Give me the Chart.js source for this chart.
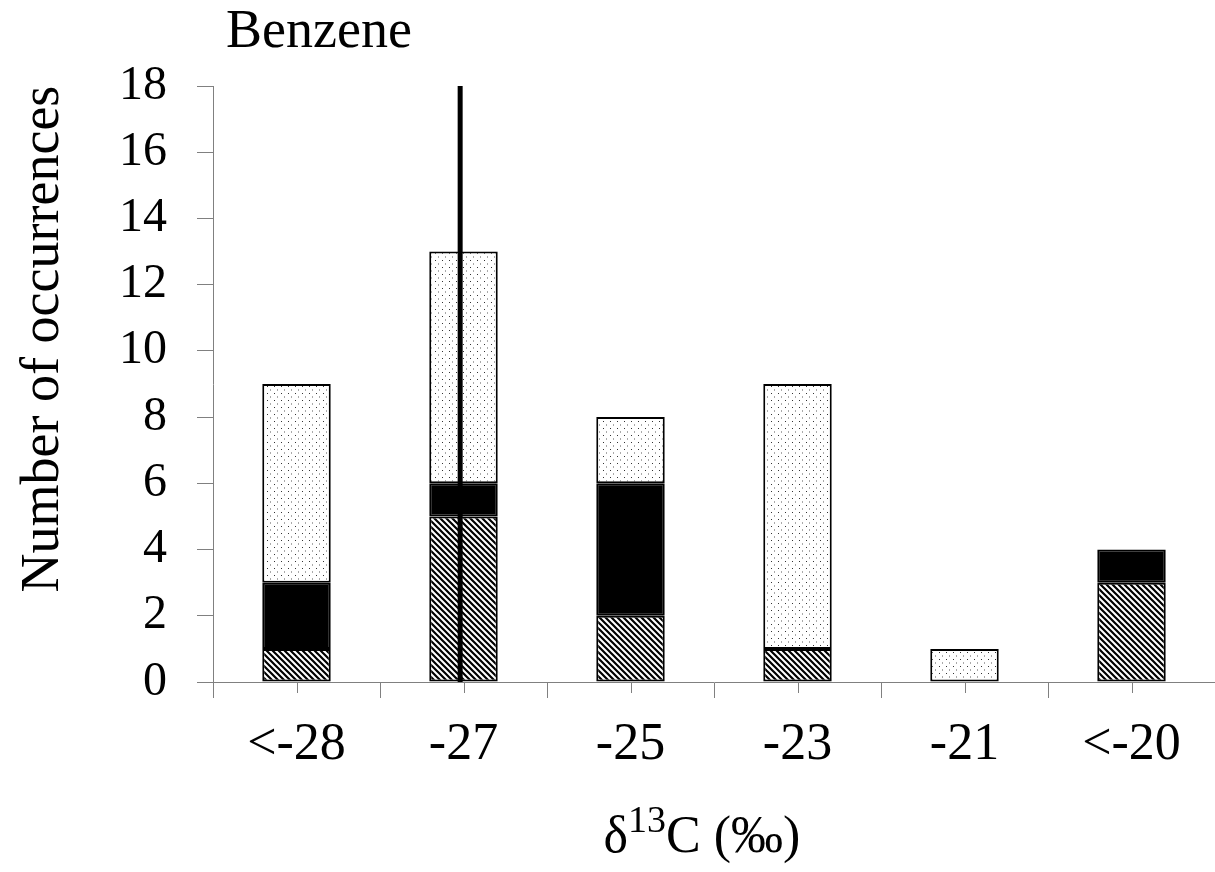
<!DOCTYPE html>
<html>
<head>
<meta charset="utf-8">
<title>Benzene δ13C</title>
<script src="https://cdn.jsdelivr.net/npm/chart.js@4.4.1/dist/chart.umd.min.js"></script>
<style>
  html, body { margin: 0; padding: 0; background: #fff; }
  #wrap { width: 1215px; height: 872px; position: relative; }
</style>
</head>
<body>
<div id="wrap"><canvas id="chart" width="1215" height="872"></canvas></div>
<script>
// ─── Data ────────────────────────────────────────────────
const categories = ['<-28', '-27', '-25', '-23', '-21', '<-20'];
const hatchedCounts = [1, 5, 2, 1, 0, 3];
const solidCounts   = [2, 1, 4, 0, 0, 1];
const dottedCounts  = [6, 7, 2, 8, 1, 0];
const yMax = 18;
const yStep = 2;
// reference line, in category-index units (just left of the -27 bin centre)
const refLineAt = 0.98;

const SERIF = "'Liberation Serif', 'Times New Roman', serif";
const AXIS_GREY = '#808080';

// ─── Fill patterns ───────────────────────────────────────
function hatchPattern() {
  const c = document.createElement('canvas');
  c.width = 6; c.height = 6;
  const g = c.getContext('2d');
  g.fillStyle = '#fff';
  g.fillRect(0, 0, 6, 6);
  g.strokeStyle = '#000';
  g.lineWidth = 2.2;
  g.beginPath();
  g.moveTo(-1, -1); g.lineTo(7, 7);
  g.moveTo(-1, 5);  g.lineTo(1, 7);
  g.moveTo(5, -1);  g.lineTo(7, 1);
  g.stroke();
  return g.createPattern(c, 'repeat');
}

function dotPattern() {
  const c = document.createElement('canvas');
  c.width = 7; c.height = 7;
  const g = c.getContext('2d');
  g.fillStyle = '#fff';
  g.fillRect(0, 0, 7, 7);
  g.fillStyle = '#333';
  g.fillRect(1, 1, 1, 1);
  g.fillStyle = '#aaa';
  g.fillRect(4, 4, 1, 2);
  return g.createPattern(c, 'repeat');
}

// no outline on empty segments
const segBorder = ctx => (ctx.raw ? 2 : 0);

// ─── Extra drawing: short centre ticks, titles ───────────
const decorations = {
  id: 'decorations',
  afterDraw(chart) {
    const { ctx, chartArea, scales } = chart;
    const xs = scales.x;

    ctx.save();
    ctx.strokeStyle = AXIS_GREY;
    ctx.lineWidth = 1;
    categories.forEach((_, i) => {
      const px = Math.round(xs.getPixelForValue(i)) + 0.5;
      ctx.beginPath();
      ctx.moveTo(px, chartArea.bottom);
      ctx.lineTo(px, chartArea.bottom + 11);
      ctx.stroke();
    });

    ctx.fillStyle = '#000';

    // panel title
    ctx.font = '54px ' + SERIF;
    ctx.textAlign = 'left';
    ctx.textBaseline = 'alphabetic';
    ctx.fillText('Benzene', 226, 47);

    // y title
    ctx.save();
    ctx.translate(58, 339);
    ctx.rotate(-Math.PI / 2);
    ctx.font = '54px ' + SERIF;
    ctx.textAlign = 'center';
    ctx.fillText('Number of occurrences', 0, 0);
    ctx.restore();

    // x title with superscript
    const big = '52px ' + SERIF, small = '38px ' + SERIF;
    ctx.font = big;   const wD = ctx.measureText('δ').width;
    ctx.font = small; const wS = ctx.measureText('13').width;
    ctx.font = big;   const wC = ctx.measureText('C (‰)').width;
    let x = 702 - (wD + wS + wC) / 2;
    const base = 852;
    ctx.textAlign = 'left';
    ctx.font = big;   ctx.fillText('δ', x, base); x += wD;
    ctx.font = small; ctx.fillText('13', x, base - 20); x += wS;
    ctx.font = big;   ctx.fillText('C (‰)', x, base);
    ctx.restore();
  }
};

const barCommon = {
  type: 'bar',
  order: 1,
  grouped: false,
  borderColor: '#000',
  borderWidth: segBorder,
  borderSkipped: false,
  barPercentage: 0.41,
  categoryPercentage: 1,
  xAxisID: 'x',
  yAxisID: 'y'
};

new Chart(document.getElementById('chart'), {
  type: 'bar',
  data: {
    labels: categories,
    datasets: [
      {
        type: 'line',
        order: 0,
        stack: 'ref',
        xAxisID: 'xl',
        yAxisID: 'y',
        data: [{ x: refLineAt, y: 0 }, { x: refLineAt, y: yMax }],
        borderColor: '#000',
        borderWidth: 5,
        pointRadius: 0,
        fill: false
      },
      Object.assign({ data: hatchedCounts, backgroundColor: hatchPattern() }, barCommon),
      Object.assign({ data: solidCounts,   backgroundColor: '#000' }, barCommon),
      Object.assign({ data: dottedCounts,  backgroundColor: dotPattern() }, barCommon)
    ]
  },
  options: {
    responsive: false,
    animation: false,
    layout: { padding: { top: 86, right: 0, bottom: 0, left: 0 } },
    plugins: { legend: { display: false }, tooltip: { enabled: false } },
    scales: {
      x: {
        stacked: true,
        border: { color: AXIS_GREY, width: 1 },
        grid: { display: true, offset: true, drawOnChartArea: false, tickLength: 16, color: AXIS_GREY },
        ticks: { color: '#000', padding: 16, font: { family: SERIF, size: 52 }, maxRotation: 0 },
        afterFit(s) { s.height = 190; }
      },
      xl: {
        type: 'linear',
        display: false,
        offset: false,
        grid: { offset: false },
        min: -0.5,
        max: categories.length - 0.5
      },
      y: {
        stacked: true,
        min: 0,
        max: yMax,
        border: { color: AXIS_GREY, width: 1 },
        grid: { display: true, drawOnChartArea: false, tickLength: 16, color: AXIS_GREY },
        ticks: { stepSize: yStep, color: '#000', padding: 30, font: { family: SERIF, size: 48 } },
        afterFit(s) { s.width = 213; }
      }
    }
  },
  plugins: [decorations]
});
</script>
</body>
</html>
